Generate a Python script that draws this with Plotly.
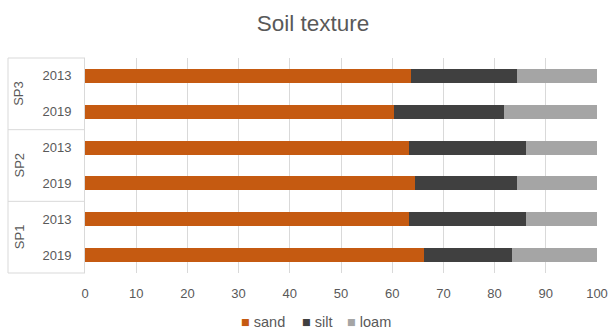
import plotly.graph_objects as go

groups = ["SP1", "SP1", "SP2", "SP2", "SP3", "SP3"]
years = ["2019", "2013", "2019", "2013", "2019", "2013"]
sand = [66.2, 63.3, 64.5, 63.3, 60.4, 63.7]
silt = [17.2, 22.8, 19.9, 22.8, 21.4, 20.7]
loam = [16.6, 13.9, 15.6, 13.9, 18.2, 15.6]
group_names = ["SP1", "SP2", "SP3"]
series_names = ["sand", "silt", "loam"]

colors = {"sand": "#c55a11", "silt": "#404040", "loam": "#a5a5a5"}
pos = list(range(len(years)))
txt = "#595959"
font = "Liberation Sans, Arial, sans-serif"

fig = go.Figure()
for name, vals in zip(series_names, [sand, silt, loam]):
    fig.add_trace(go.Bar(y=pos, x=vals, name=name, orientation="h",
                         marker=dict(color=colors[name], line=dict(width=0)),
                         width=0.39))

n = len(years)
ng = len(group_names)
L, R, T, B = 85, 11, 58, 56
pw, ph = 608 - L - R, 329 - T - B

shapes = []
xl = (8 - L) / pw
for k in range(ng + 1):
    yy = k / ng
    shapes.append(dict(type="line", xref="paper", yref="paper", x0=xl, x1=0,
                       y0=yy, y1=yy, line=dict(color="#d9d9d9", width=1)))
shapes.append(dict(type="line", xref="paper", yref="paper", x0=xl, x1=xl,
                   y0=0, y1=1, line=dict(color="#d9d9d9", width=1)))

annotations = []
for k, g in enumerate(group_names):
    annotations.append(dict(text=g, xref="paper", yref="paper", x=(19 - L) / pw,
                            y=(k + 0.5) / ng, showarrow=False, textangle=-90,
                            font=dict(size=13, color=txt, family=font),
                            xanchor="center", yanchor="middle"))

# legend built as text entries (square glyph + series name)
leg_x = [239, 300, 345]
for name, lx in zip(series_names, leg_x):
    annotations.append(dict(
        text=f"<span style='color:{colors[name]}'>■</span>&nbsp;{name}",
        xref="paper", yref="paper", x=(lx - L) / pw, y=-(322 - (T + ph)) / ph,
        xanchor="left", yanchor="middle", showarrow=False,
        font=dict(size=14.5, color=txt, family=font)))

fig.update_layout(
    width=608, height=329,
    margin=dict(l=L, r=R, t=T, b=B),
    paper_bgcolor="white", plot_bgcolor="white",
    barmode="stack",
    title=dict(text="Soil texture", x=313 / 608, xref="container", xanchor="center",
               y=1 - 23 / 329, yref="container", yanchor="middle",
               font=dict(size=22.5, color=txt, family=font)),
    xaxis=dict(range=[0, 100], dtick=10, tick0=0, showgrid=True,
               gridcolor="#d9d9d9", gridwidth=1, zeroline=False, showline=False,
               ticks="", ticklabelstandoff=11, automargin=False,
               tickfont=dict(size=13, color=txt, family=font)),
    yaxis=dict(range=[-0.5, n - 0.5], tickvals=pos, ticktext=years,
               showgrid=False, zeroline=False, showline=True,
               linecolor="#d9d9d9", linewidth=1, ticks="",
               ticklabelstandoff=10, automargin=False,
               tickfont=dict(size=13, color=txt, family=font)),
    shapes=shapes,
    annotations=annotations,
    showlegend=False,
)

fig.write_html("out.html")
